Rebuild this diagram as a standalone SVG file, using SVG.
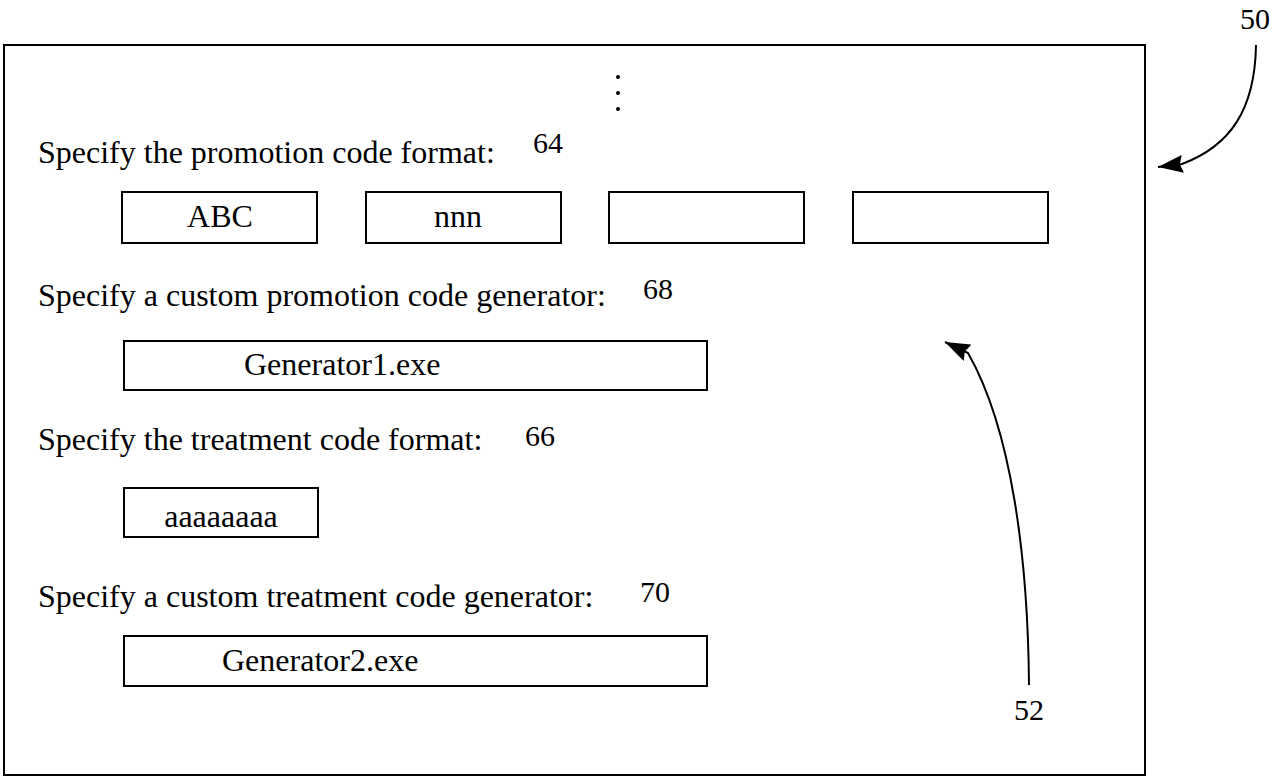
<svg xmlns="http://www.w3.org/2000/svg" width="1279" height="777" viewBox="0 0 1279 777">
<defs>
<style>
.frame{fill:#fff;stroke:#000;stroke-width:2}
.box{fill:#fff;stroke:#000;stroke-width:2}
.t{font-family:"Liberation Serif","Times New Roman",serif;font-size:32px;fill:#000}
.c{text-anchor:middle}
.num{font-family:"Liberation Serif","Times New Roman",serif;font-size:30px;fill:#000}
.lead{fill:none;stroke:#000;stroke-width:2}
</style>
<marker id="ah" viewBox="0 0 25 18" refX="25" refY="9" markerWidth="25" markerHeight="18" markerUnits="userSpaceOnUse" orient="auto">
<path d="M0,0 L25,9 L0,18 L3,9 z" fill="#000"/>
</marker>
</defs>
<rect width="1279" height="777" fill="#fff"/>
<g id="screen">
<rect class="frame" x="4" y="45" width="1141" height="730"/>
<circle cx="618" cy="77" r="2" fill="#000"/>
<circle cx="618" cy="93" r="2" fill="#000"/>
<circle cx="618" cy="109" r="2" fill="#000"/>
</g>
<g id="promo-format">
<text class="t" x="38" y="163">Specify the promotion code format:</text>
<text class="num" x="533" y="153">64</text>
<rect class="box" x="122" y="192" width="195" height="51"/>
<text class="t c" x="220" y="227">ABC</text>
<rect class="box" x="366" y="192" width="195" height="51"/>
<text class="t c" x="458" y="227">nnn</text>
<rect class="box" x="609" y="192" width="195" height="51"/>
<rect class="box" x="853" y="192" width="195" height="51"/>
</g>
<g id="promo-generator">
<text class="t" x="38" y="306">Specify a custom promotion code generator:</text>
<text class="num" x="643" y="299">68</text>
<rect class="box" x="124" y="341" width="583" height="49"/>
<text class="t" x="244" y="375">Generator1.exe</text>
</g>
<g id="treatment-format">
<text class="t" x="38" y="450">Specify the treatment code format:</text>
<text class="num" x="525" y="446">66</text>
<rect class="box" x="124" y="488" width="194" height="49"/>
<text class="t c" x="221" y="527">aaaaaaaa</text>
</g>
<g id="treatment-generator">
<text class="t" x="38" y="607">Specify a custom treatment code generator:</text>
<text class="num" x="640" y="602">70</text>
<rect class="box" x="124" y="636" width="583" height="50"/>
<text class="t" x="222" y="671">Generator2.exe</text>
</g>
<g id="labels">
<text class="num" x="1240" y="29">50</text>
<text class="num c" x="1029" y="720">52</text>
</g>
<g id="connectors">
<path class="lead" d="M1256,45 C1255,110 1230,146 1182,164 L1158,167" marker-end="url(#ah)"/>
<path class="lead" d="M1029,685 C1028,560 1012,430 968,353 L945,342" marker-end="url(#ah)"/>
</g>
</svg>
